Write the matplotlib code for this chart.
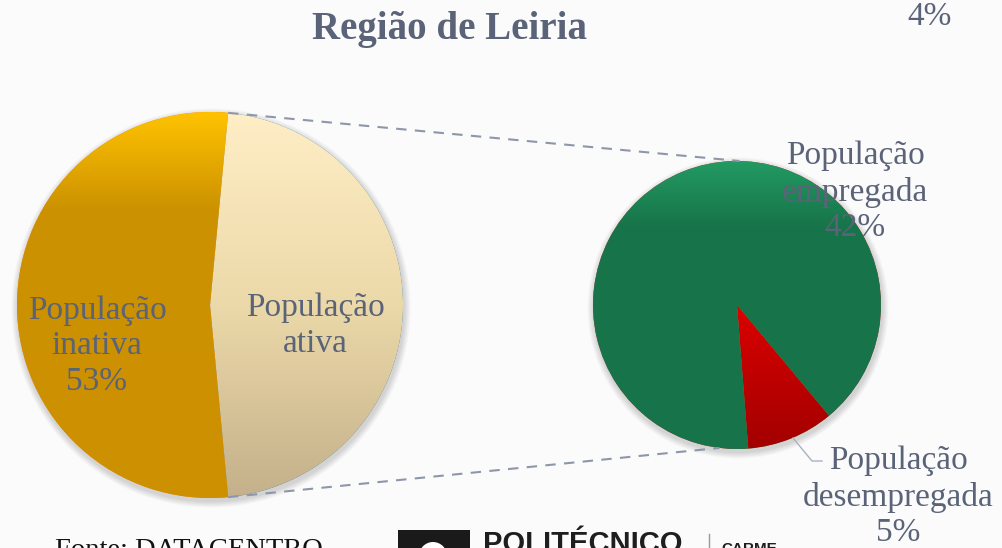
"""Pie-of-pie chart: population activity in the Leiria region."""

import matplotlib.pyplot as plt
import numpy as np
from matplotlib.colors import LinearSegmentedColormap
from matplotlib.patches import Circle, Rectangle

# data (% of total population)
main_labels = ["População\nativa", "População\ninativa"]
main_values = [47.0, 53.0]
sub_labels = ["População\ndesempregada", "População\nempregada"]
sub_values = [4.6, 42.4]

TITLE = "Região de Leiria"
SOURCE = "Fonte: DATACENTRO"

W, H = 1003, 548
BG = "#fbfbfb"
TXT = "#5a6378"

LEFT_C, LEFT_R = (210, 243), 193
RIGHT_C, RIGHT_R = (737, 243), 144

fig = plt.figure(figsize=(W / 100, H / 100), dpi=100, facecolor=BG)
ax = fig.add_axes([0, 0, 1, 1])
ax.set_facecolor(BG)


def shadow(cx, cy, r):
    for i in range(8):
        ax.add_patch(Circle((cx + 1, cy - 3), r + 1 + i * 0.8, color="k",
                            alpha=0.018, lw=0, zorder=1))


def gradient_fill(wedge, stops, cx, cy, r):
    cmap = LinearSegmentedColormap.from_list("g", stops)
    grad = np.linspace(0, 1, 256).reshape(-1, 1)
    im = ax.imshow(grad, cmap=cmap, extent=(cx - r, cx + r, cy - r, cy + r),
                   origin="upper", aspect="auto", zorder=3)
    im.set_clip_path(wedge)


shadow(*LEFT_C, LEFT_R)
shadow(*RIGHT_C, RIGHT_R)

# left pie
start_left = -180 * main_values[0] / 100
wl, _ = ax.pie(main_values, center=LEFT_C, radius=LEFT_R,
               startangle=start_left, counterclock=True,
               wedgeprops=dict(lw=0, zorder=2))
gradient_fill(wl[0], [(0, "#ffeec6"), (0.5, "#ecd9a9"), (1, "#c4b08a")], *LEFT_C, LEFT_R)
gradient_fill(wl[1], [(0, "#ffc200"), (0.25, "#cc9200"), (1, "#cc9000")], *LEFT_C, LEFT_R)

# right pie
wr, _ = ax.pie(sub_values, center=RIGHT_C, radius=RIGHT_R,
               startangle=-85.5, counterclock=True,
               wedgeprops=dict(lw=0, zorder=2))
gradient_fill(wr[0], [(0, "#ff1010"), (0.5, "#dc0000"), (1, "#a20000")], *RIGHT_C, RIGHT_R)
gradient_fill(wr[1], [(0, "#229a62"), (0.22, "#18754a"), (1, "#17744a")], *RIGHT_C, RIGHT_R)

# connector lines between the pies
half = np.deg2rad(180 * main_values[0] / 100)
for sgn, ang in [(1, 89.0), (-1, -97.0)]:
    x0 = LEFT_C[0] + LEFT_R * np.cos(half)
    y0 = LEFT_C[1] + sgn * LEFT_R * np.sin(half)
    x1 = RIGHT_C[0] + RIGHT_R * np.cos(np.deg2rad(ang))
    y1 = RIGHT_C[1] + RIGHT_R * np.sin(np.deg2rad(ang))
    ax.plot([x0, x1], [y0, y1], color="#8e96aa", lw=1.5, dashes=(5, 4), zorder=4)

# labels
lab_font = dict(family="Liberation Serif", fontsize=24, color=TXT,
                ha="center", va="center", linespacing=1.22, zorder=6)
ax.text(97, H - 346, f"{main_labels[1]}\n{main_values[1]:.0f}%", **lab_font)
ax.text(315, H - 326, main_labels[0], **lab_font)
ax.text(855, H - 192, f"{sub_labels[1]}\n{sub_values[1]:.0f}%", **lab_font)
ax.text(898, H - 497, f"{sub_labels[0]}\n{sub_values[0]:.0f}%", **lab_font)
ax.text(930, H - 25, "4%", family="Liberation Serif", fontsize=24, color=TXT,
        ha="center", va="baseline")
ax.plot([793, 812, 822], [H - 438, H - 461, H - 461], color="#a9b1c2", lw=1, zorder=4)

ax.text(450, H - 29, TITLE, family="Liberation Serif", fontweight="bold",
        fontsize=28, color=TXT, ha="center", va="center")

# footer
ax.text(55, -9, SOURCE, family="Liberation Serif", fontsize=20.5, color="#111111",
        ha="left", va="baseline", clip_on=False)
ax.add_patch(Rectangle((398, -20), 72, 38, color="#1a1a1a", lw=0, zorder=5))
ax.add_patch(Circle((433, -8), 14, color="white", lw=0, zorder=6))
ax.text(483, -4, "POLITÉCNICO", family="Liberation Sans",
        fontweight="bold", fontsize=21, color="#1e1e1e", ha="left", va="baseline")
ax.plot([709, 709], [0, 14], color="#999999", lw=1)
ax.text(721, -5, "CARME", family="Liberation Sans",
        fontweight="bold", fontsize=11, color="#1e1e1e", ha="left", va="baseline")

ax.set_xlim(0, W)
ax.set_ylim(0, H)
ax.set_aspect("equal")
ax.axis("off")

fig.savefig("out.png", dpi=100, facecolor=BG)
